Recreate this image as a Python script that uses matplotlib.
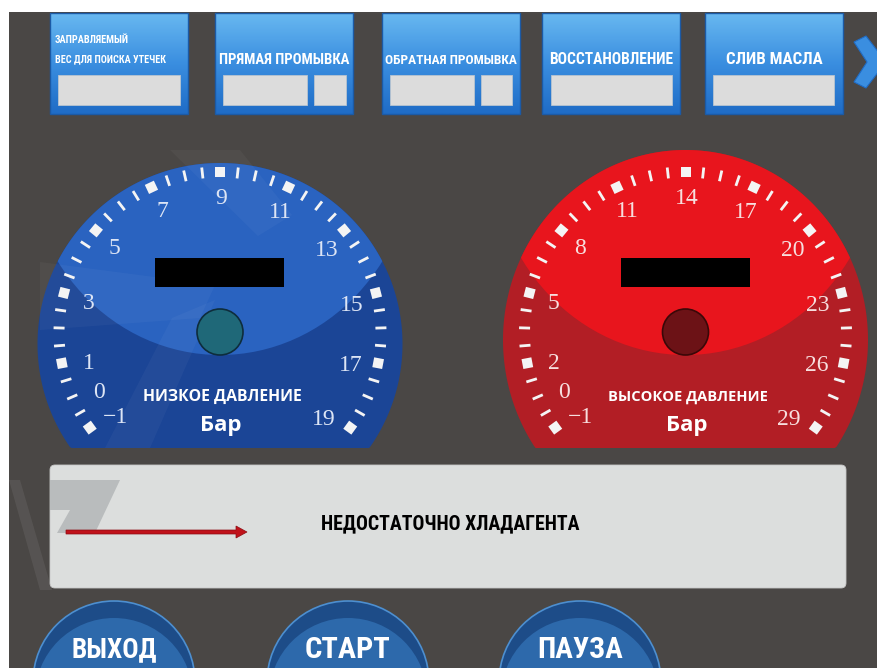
import numpy as np
import matplotlib.pyplot as plt
from matplotlib.patches import Rectangle, Polygon, Ellipse, Circle, FancyBboxPatch, FancyArrow
from matplotlib.collections import PolyCollection
from matplotlib.colors import LinearSegmentedColormap

# --- data ---
top_buttons = ['ЗАПРАВЛЯЕМЫЙ\nВЕС ДЛЯ ПОИСКА УТЕЧЕК', 'ПРЯМАЯ ПРОМЫВКА',
               'ОБРАТНАЯ ПРОМЫВКА', 'ВОССТАНОВЛЕНИЕ', 'СЛИВ МАСЛА']
bottom_buttons = ['ВЫХОД', 'СТАРТ', 'ПАУЗА']
status_text = 'НЕДОСТАТОЧНО ХЛАДАГЕНТА'

low_title = 'НИЗКОЕ ДАВЛЕНИЕ'
low_range = (-1, 19)
low_labels = [-1, 0, 1, 3, 5, 7, 9, 11, 13, 15, 17, 19]

high_title = 'ВЫСОКОЕ ДАВЛЕНИЕ'
high_range = (-1, 29)
high_labels = [-1, 0, 2, 5, 8, 11, 14, 17, 20, 23, 26, 29]

unit = 'Бар'
n_ticks = 40      # small steps on each dial
major_every = 4

W, H = 877, 668
fig = plt.figure(figsize=(W / 100, H / 100), dpi=100, facecolor='white')
ax = fig.add_axes([0, 0, 1, 1])
ax.axis('off')

BG = '#4a4745'
COND = ['Roboto Condensed', 'Liberation Sans Narrow', 'DejaVu Sans']
SANS = ['Open Sans', 'DejaVu Sans']

def fit(t, width):
    r = fig.canvas.get_renderer()
    bb = t.get_window_extent(r)
    t.set_fontsize(t.get_fontsize() * width / bb.width)

ax.add_patch(Rectangle((9, 12), W, H, fc=BG, ec='none', zorder=0))

# --- top buttons ---
btn_x = [50, 215, 382, 542, 705]
btn_w = 138
btn_boxes = [[(58, 180)], [(223, 307), (314, 346)], [(390, 474), (481, 512)],
             [(551, 672)], [(713, 834)]]
btn_text_w = [None, 130, 132, 124, 96]
grad = np.linspace(0, 1, 100).reshape(-1, 1)
bcmap = LinearSegmentedColormap.from_list('b', ['#68b8f0', '#3a8ee0', '#1f6cc6'])

for i, lab in enumerate(top_buttons):
    x0 = btn_x[i]
    p = Rectangle((x0, 13), btn_w, 101, fc='none', ec='#1b5aa6', lw=1.0, zorder=3)
    ax.add_patch(p)
    im = ax.imshow(grad, extent=[x0, x0 + btn_w, 114, 13], cmap=bcmap,
                   aspect='auto', zorder=2, interpolation='bilinear')
    im.set_clip_path(p)
    for (a, b) in btn_boxes[i]:
        ax.add_patch(Rectangle((a, 75), b - a, 30, fc='#dcdcdc', ec='#b8c4d0',
                               lw=0.6, zorder=4))
    if '\n' in lab:
        l1, l2 = lab.split('\n')
        t1 = ax.text(55, 40, l1, color='white', fontweight='bold', family=COND,
                     fontstretch='condensed', ha='left', va='center', fontsize=10, zorder=5)
        t2 = ax.text(55, 59, l2, color='white', fontweight='bold', family=COND,
                     fontstretch='condensed', ha='left', va='center', fontsize=10, zorder=5)
        fit(t1, 74)
        fit(t2, 110)
    else:
        t = ax.text(x0 + btn_w / 2, 60, lab, color='white', fontweight='bold',
                    family=COND, fontstretch='condensed', ha='center', va='center',
                    fontsize=10, zorder=5)
        fit(t, btn_text_w[i])

# chevron
ax.add_patch(Polygon([(854, 42), (866, 36), (886, 62), (866, 88), (854, 82), (867, 62)],
                     closed=True, fc='#3a8ee0', ec='#1f6cc6', lw=0.8, zorder=3))

# --- gauges ---
def gauge(cx, cy_body, ry, light, dark, knob, knob_ec, vrange, labels, title, lab_col):
    t = np.linspace(0, 2 * np.pi, 400)
    xs = cx + 182.5 * np.cos(t)
    ys = np.minimum(cy_body + ry * np.sin(t), 448)
    body = Polygon(np.column_stack([xs, ys]), closed=True, fc=dark, ec='none', zorder=2)
    ax.add_patch(body)
    top = Ellipse((cx, 145), 390, 420, fc=light, ec='none', zorder=3)
    ax.add_patch(top)
    top.set_clip_path(body)

    tc_y, r_tick, r_lab = 333, 161, 135
    vmin, vmax = vrange

    def frac(v):
        return (v - vmin) / (vmax - vmin)

    polys = []
    for k in range(n_ticks + 1):
        a = np.deg2rad(216 - k / n_ticks * 252)
        u = np.array([np.cos(a), -np.sin(a)])
        w = np.array([np.sin(a), np.cos(a)])
        c = np.array([cx, tc_y]) + r_tick * u
        hu, hw = (5, 5) if k % major_every == 0 else (5.5, 1.4)
        polys.append([c + hu * u + hw * w, c + hu * u - hw * w,
                      c - hu * u - hw * w, c - hu * u + hw * w])
    ax.add_collection(PolyCollection(polys, facecolors='#f4f4f4', edgecolors='none', zorder=5))

    for v in labels:
        f = frac(v)
        if v != vmin:
            f = max(f, 0.05)
        a = np.deg2rad(219 - f * 259)
        s = str(v).replace('-', '\u2212')
        ax.text(cx + r_lab * np.cos(a), tc_y - r_lab * np.sin(a), s, color=lab_col,
                family=['Liberation Serif', 'DejaVu Serif'], fontsize=17,
                ha='center', va='center', zorder=6)

    ax.add_patch(Rectangle((cx - 65, 258), 129, 29, fc='black', ec='none', zorder=6))
    ax.add_patch(Circle((cx, 332), 23, fc=knob, ec=knob_ec, lw=1.2, zorder=6))
    tt = ax.text(cx + 2, 397, title, color='white', fontweight='bold', family=SANS,
                 fontsize=12, ha='center', va='center', zorder=6)
    fit(tt, 159)
    ax.text(cx + 1, 425, unit, color='white', fontweight='bold', family=SANS,
            fontsize=16, ha='center', va='center', zorder=6)

gauge(220, 344, 181, '#2a63c0', '#1b4596', '#1f6878', '#0e2d3c',
      low_range, low_labels, low_title, '#dde5f5')
gauge(685.5, 340, 190, '#e8151d', '#b21e25', '#6c1216', '#3a0808',
      high_range, high_labels, high_title, '#f7dede')

# faint watermark shapes
wm = [[(40, 262), (215, 285), (200, 318), (40, 330)],
      [(172, 318), (215, 300), (150, 448), (105, 448)],
      [(170, 150), (240, 150), (292, 215), (258, 236)]]
for p in wm:
    ax.add_patch(Polygon(p, closed=True, fc='white', alpha=0.035, ec='none', zorder=4))

# --- status box ---
ax.add_patch(FancyBboxPatch((53, 468), 790, 117, boxstyle='round,pad=3,rounding_size=5',
                            fc='#dcdedd', ec='#c8c8c8', lw=0.6, zorder=2))
ax.add_patch(Polygon([(50, 480), (120, 480), (95, 533), (57, 533), (70, 510), (50, 510)],
                     closed=True, fc='#b9bcbd', ec='none', zorder=3))
ax.add_patch(FancyArrow(66, 532, 170, 0, width=4, head_width=12, head_length=11,
                        length_includes_head=False, fc='#c0121a', ec='#8c0c12',
                        lw=0.5, zorder=4))
st = ax.text(450, 524, status_text, color='black', fontweight='bold', family=COND,
             fontstretch='condensed', fontsize=10, ha='center', va='center', zorder=5)
fit(st, 258)

# left margin watermark
ax.add_patch(Polygon([(9, 480), (20, 480), (52, 590), (40, 590)], closed=True,
                     fc='white', alpha=0.07, ec='none', zorder=1))

# --- bottom round buttons ---
for cx, lab in zip([114, 348, 580], bottom_buttons):
    outer = Circle((cx, 682), 81, fc='#1d4c88', ec='#4d8fd0', lw=1.2, zorder=2)
    ax.add_patch(outer)
    inner = Circle((cx, 697), 79, fc='#2d69ab', ec='none', zorder=3)
    ax.add_patch(inner)
    inner.set_clip_path(outer)
    t = ax.text(cx, 650, lab, color='white', fontweight='bold', family=COND,
                fontstretch='condensed', fontsize=18, ha='center', va='center', zorder=4)
    fit(t, 86)

ax.set_xlim(0, W)
ax.set_ylim(H, 0)
fig.savefig('out.png', dpi=100, facecolor='white')
